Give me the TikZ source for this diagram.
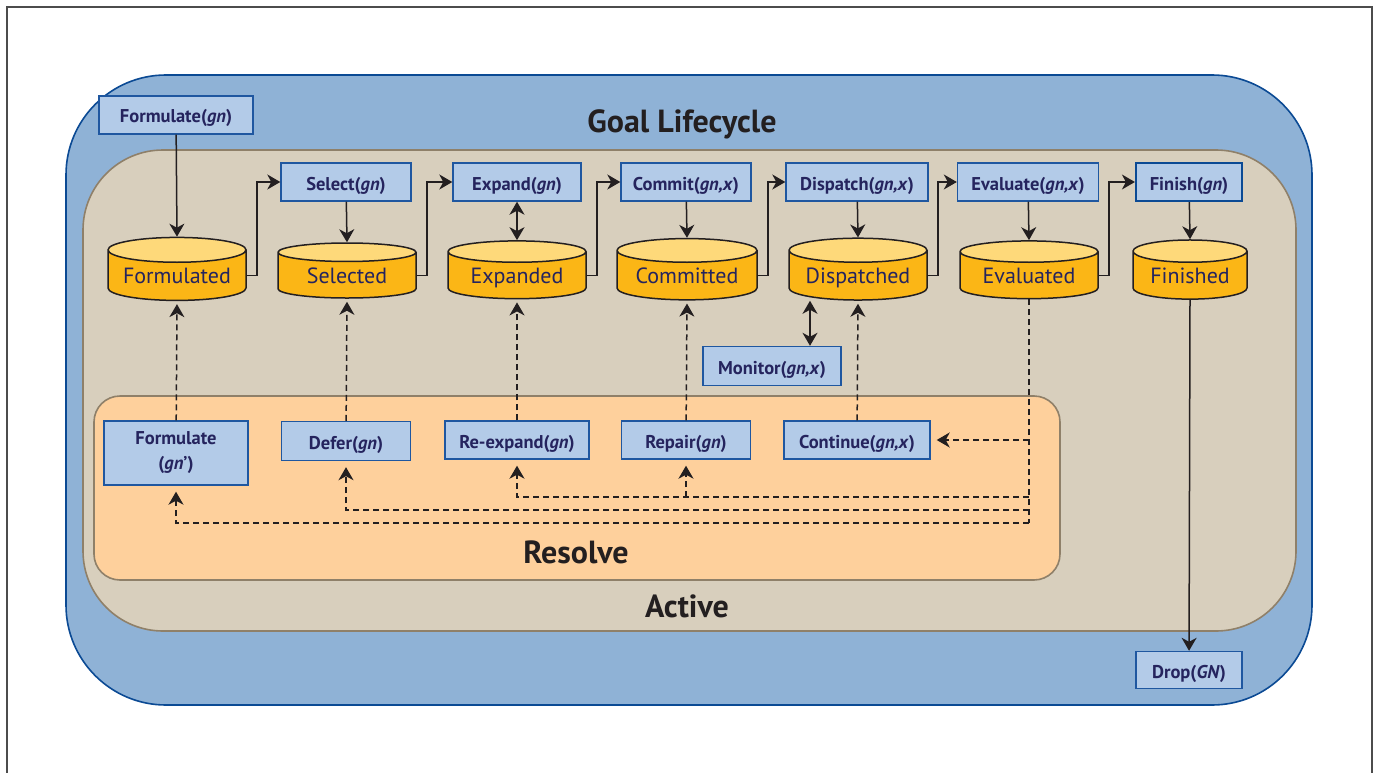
\documentclass[tikz,border=0pt]{standalone}
\usepackage{fontspec}
\setmainfont{PT Sans}
\usepackage{xcolor}
\usepackage{tikz}
\usetikzlibrary{positioning, arrows.meta, calc, shapes.geometric}
\definecolor{lifeblue}{HTML}{8FB2D6}
\definecolor{lifeedge}{HTML}{0B4A94}
\definecolor{activetan}{HTML}{D8CFBD}
\definecolor{activeedge}{HTML}{8F8069}
\definecolor{resolvepeach}{HTML}{FED09C}
\definecolor{opblue}{HTML}{B3CBE8}
\definecolor{opedge}{HTML}{1F57A0}
\definecolor{drumbody}{HTML}{FBB616}
\definecolor{drumtop}{HTML}{FED97A}
\definecolor{inkblue}{HTML}{25245E}
\definecolor{arrowink}{HTML}{231F20}

\tikzset{
  opbox/.style={fill=opblue, draw=opedge, line width=1.4pt, inner sep=0pt, minimum height=38pt,
    text height=18pt, text depth=2pt, text=inkblue, font=\fontsize{18.5}{25}\selectfont\bfseries},
  store/.style={cylinder, shape border rotate=90, aspect=0.23, minimum width=138pt, minimum height=55pt,
    draw=arrowink, line width=1.5pt, cylinder uses custom fill, cylinder body fill=drumbody,
    cylinder end fill=drumtop, text height=20pt, text depth=5pt, text=inkblue,
    font=\fontsize{22}{26}\selectfont, inner sep=0pt},
  flow/.style={draw=arrowink, line width=1.5pt, -{Stealth[length=13pt, width=15pt, inset=4pt]}},
  twoway/.style={flow, {Stealth[length=13pt, width=15pt, inset=4pt]}-{Stealth[length=13pt, width=15pt, inset=4pt]}},
  fixflow/.style={flow, dash pattern=on 6pt off 4pt},
  region/.style={font=\fontsize{32}{38}\selectfont\bfseries, text=arrowink},
}

\begin{document}
\begin{tikzpicture}[x=1pt, y=-1pt]
  \useasboundingbox (0,0) rectangle (1378,773);
  \draw[line width=1.5pt, draw=black!70] (7,773) -- (7,7) -- (1372,7) -- (1372,773);

  \draw[fill=lifeblue, draw=lifeedge, line width=1.6pt, rounded corners=100pt] (66,75) rectangle (1312,705);
  \draw[fill=activetan, draw=activeedge, line width=1.6pt, rounded corners=80pt] (83,150) rectangle (1296,631);
  \draw[fill=resolvepeach, draw=activeedge, line width=1.6pt, rounded corners=26pt] (94,396) rectangle (1060,580);

  \node[region] (lifetitle) at (682,124) {Goal Lifecycle};
  \node[region] (activetitle) at (687,606) {Active};
  \node[region] (resolvetitle) at (576,552) {Resolve};

  \node[opbox, minimum width=154pt] (formulate) at (176,115) {Formulate(\textit{gn})};
  \node[opbox, minimum width=130pt] (select) at (346,182) {Select(\textit{gn})};
  \node[opbox, minimum width=128pt] (expand) at (517,182) {Expand(\textit{gn})};
  \node[opbox, minimum width=130pt] (commit) at (686,182) {Commit(\textit{gn,x})};
  \node[opbox, minimum width=142pt] (dispatch) at (857,182) {Dispatch(\textit{gn,x})};
  \node[opbox, minimum width=141pt] (evaluate) at (1028,182) {Evaluate(\textit{gn,x})};
  \node[opbox, minimum width=106pt, line width=2.2pt, draw=lifeedge] (finish) at (1189,182) {Finish(\textit{gn})};

  \node[store] (formulated) at (177,275.5) {Formulated};
  \node[store] (selected) at (347,275.5) {Selected};
  \node[store] (expanded) at (517,275.5) {Expanded};
  \node[store, minimum width=140pt] (committed) at (687,275.5) {Committed};
  \node[store] (dispatched) at (858,275.5) {Dispatched};
  \node[store] (evaluated) at (1029,275.5) {Evaluated};
  \node[store, minimum width=114pt, aspect=0.28] (finished) at (1190,275.5) {Finished};

  \node[opbox, minimum width=138pt, minimum height=39pt] (monitor) at (772,366) {Monitor(\textit{gn,x})};
  \node[opbox, minimum width=144pt, minimum height=64pt, align=center, text height={}, text depth={}]
    (reformulate) at (176,453) {Formulate\\(\textit{gn}’)};
  \node[opbox, minimum width=129pt, minimum height=39pt] (defer) at (346,441) {Defer(\textit{gn})};
  \node[opbox, minimum width=144pt] (reexpand) at (517,440) {Re-expand(\textit{gn})};
  \node[opbox, minimum width=129pt] (repair) at (686,440) {Repair(\textit{gn})};
  \node[opbox, minimum width=146pt] (continue) at (857,440) {Continue(\textit{gn,x})};
  \node[opbox, minimum width=106pt, minimum height=37pt] (drop) at (1189,670) {Drop(\textit{GN})};

  \draw[flow] (formulate) -- (formulated.top);
  \draw[flow] (select) -- (selected.top);
  \draw[twoway] (expand) -- (expanded.top);
  \draw[flow] (commit) -- (committed.top);
  \draw[flow] (dispatch) -- (dispatched.top);
  \draw[flow] (evaluate) -- (evaluated.top);
  \draw[flow] (finish) -- (finished.top);
  \draw[flow] (finished.bottom) -- (drop);

  \draw[flow] (formulated.east) -- ++(10,0) |- (select.west);
  \draw[flow] (selected.east) -- ++(10,0) |- (expand.west);
  \draw[flow] (expanded.east) -- ++(10,0) |- (commit.west);
  \draw[flow] (committed.east) -- ++(10,0) |- (dispatch.west);
  \draw[flow] (dispatched.east) -- ++(10,0) |- (evaluate.west);
  \draw[flow] (evaluated.east) -- ++(10,0) |- (finish.west);

  \draw[twoway] ([xshift=38pt]monitor.north) -- ([xshift=38pt]monitor.north |- dispatched.bottom);

  \draw[fixflow, shorten >=3pt] (reformulate) -- (formulated.bottom);
  \draw[fixflow, shorten >=3pt] (defer) -- (selected.bottom);
  \draw[fixflow, shorten >=3pt] (reexpand) -- (expanded.bottom);
  \draw[fixflow, shorten >=3pt] (repair) -- (committed.bottom);
  \draw[fixflow, shorten >=3pt] (continue) -- (dispatched.bottom);

  \coordinate (backA) at (1029,497);
  \coordinate (backB) at (1029,510);
  \coordinate (backC) at (1029,523);
  \draw[fixflow, -] (evaluated.bottom) -- (backC);
  \draw[fixflow, shorten >=6pt] (evaluated.bottom |- continue.east) -- (continue.east);
  \draw[fixflow, shorten >=6pt] (backA) -| (reexpand.south);
  \draw[fixflow, shorten >=6pt] (backA -| repair.south) -- (repair.south);
  \draw[fixflow, shorten >=6pt] (backB) -| (defer.south);
  \draw[fixflow, shorten >=6pt] (backC) -| (reformulate.south);
\end{tikzpicture}
\end{document}
